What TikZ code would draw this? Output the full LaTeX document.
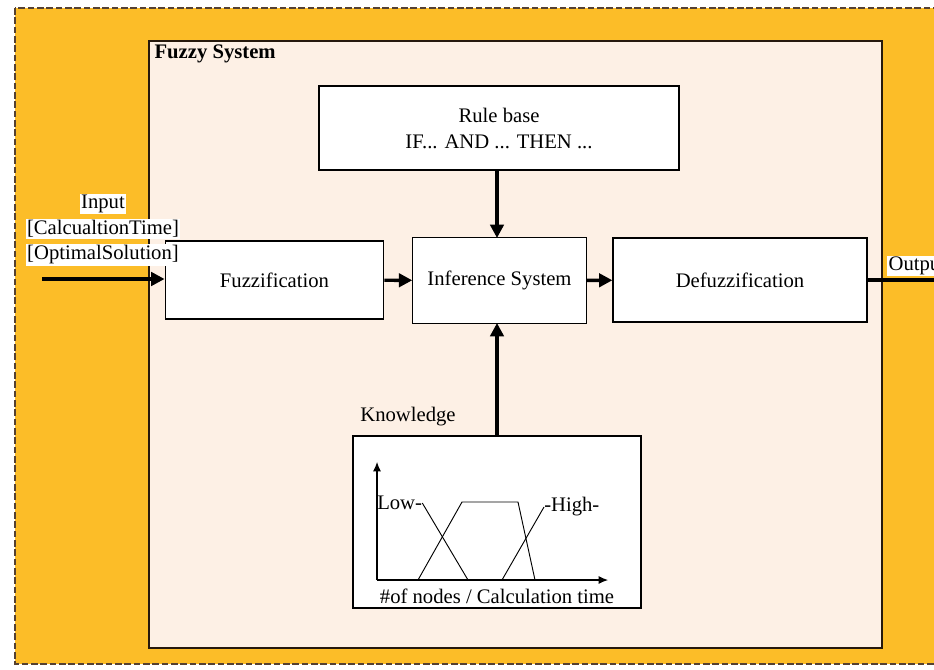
\documentclass[tikz,border=0pt]{standalone}
\usepackage{fontspec}
\setmainfont{Liberation Serif}
\usepackage{xcolor}
\definecolor{panel}{RGB}{252,189,40}
\definecolor{cream}{RGB}{253,240,229}
\definecolor{dashbrown}{RGB}{85,65,50}
\usetikzlibrary{arrows.meta,positioning}

\begin{document}
\begin{tikzpicture}[
  x=0.75pt, y=-0.75pt,
  font=\fontsize{15.5}{19.5}\selectfont,
  block/.style={draw=black, fill=white, line width=0.9pt, align=center, inner sep=2pt},
  arrow/.style={-{Triangle[length=10pt,width=10pt]}, line width=2.6pt},
  tag/.style={fill=white, inner sep=1pt},
  axis/.style={-{Latex[length=7pt,width=6pt]}, line width=0.8pt},
  curve/.style={line width=0.7pt}
]
\useasboundingbox (0,0) rectangle (934,670);
\clip (0,0) rectangle (934,670);

% background panels
\draw[dashbrown, fill=panel, dash pattern=on 5pt off 2pt, line width=1.3pt] (15,8) rectangle (960,664);
\draw[black!80!brown, fill=cream, line width=1pt] (149,41) rectangle (882,648);
\node[anchor=north west, inner sep=1pt, font=\fontsize{15.5}{19.5}\selectfont\bfseries] (title) at (153,43) {Fuzzy System};

% blocks
\node[block, minimum width=270pt, minimum height=63pt] (rule) at (499,128) {Rule base\\IF... AND ... THEN ...};
\node[block, minimum width=164pt, minimum height=58.5pt] (fuzz) at (274.5,280) {Fuzzification};
\node[block, minimum width=130pt, minimum height=64pt] (infer) at (499.5,280.5) {Inference System};
\node[block, minimum width=190.5pt, minimum height=63pt] (defuzz) at (740,280) {Defuzzification};
\node[block, minimum width=216pt, minimum height=129pt] (know) at (497,522) {};
\node (knowlabel) at (408,417) {Knowledge};

% input / output
\node[tag] (inlabel) at (103,204) {Input};
\node[tag] (intime) at (103,229) {[CalcualtionTime]};
\node[tag] (insol) at (103,255) {[OptimalSolution]};
\coordinate (instart) at (42,279);
\coordinate (outend) at (940,280);
\node[tag, anchor=west] (outlabel) at (887,266) {Output};

% connectors
\draw[arrow] (instart) -- (instart -| fuzz.west);
\draw[arrow] (fuzz) -- (infer);
\draw[arrow] (infer) -- (defuzz);
\draw[line width=2.6pt] (defuzz.east) -- (outend);
\draw[arrow] (rule.south -| 497,0) -- (497,238);
\draw[arrow] (know.north) -- (497,323);

% membership functions
\coordinate (origin) at (377,580);
\draw[axis] (origin) -- (377,462);
\draw[axis] (origin) -- (608,580);
\node[inner sep=0pt, anchor=west] (low) at (377,503) {Low-};
\node[inner sep=0pt, anchor=west] (high) at (544,507) {-High-};
\draw[curve] (low.east) -- (468,580);
\draw[curve] (418,580) -- (462,502) -- (518,502) -- (535,580);
\draw[curve] (502,580) -- (high.west);
\node (xlabel) at (497,596) {\#of nodes / Calculation time};
\end{tikzpicture}
\end{document}
